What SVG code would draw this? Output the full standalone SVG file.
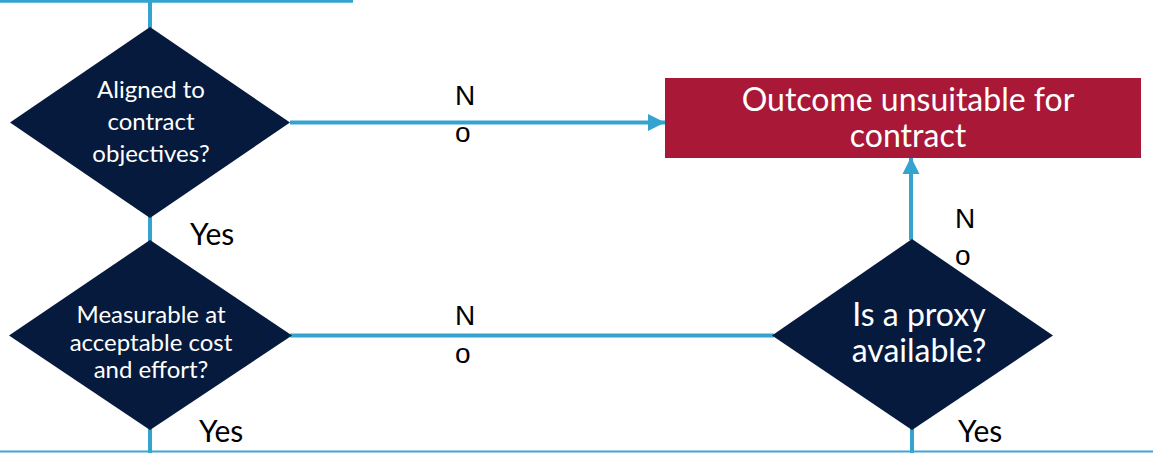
<svg xmlns="http://www.w3.org/2000/svg" width="1153" height="453" viewBox="0 0 1153 453">
<style>
.dia{fill:#061A3D}
.box{fill:#AA1838}
.ln{stroke:#35A3CF;stroke-width:4;fill:none}
.wt{fill:#FFFFFF;font-family:Lato,"Open Sans",sans-serif;text-anchor:middle}
.lb{fill:#000000;font-family:"Liberation Sans",Arial,sans-serif;font-size:28px}
.yes{fill:#000000;font-family:Lato,"Open Sans",sans-serif;font-size:30px}
</style>
<defs>
<marker id="ah" viewBox="0 0 10 10" refX="10" refY="5" markerWidth="4.3" markerHeight="6.2" markerUnits="strokeWidth" orient="auto">
<path d="M0,0 L10,5 L0,10 Z" fill="#35A3CF"/>
</marker>
</defs>
<rect width="1153" height="453" fill="#FFFFFF"/>
<g id="connectors">
<line class="ln" x1="0" y1="1.3" x2="353" y2="1.3" style="stroke-width:3"/>
<line class="ln" x1="150" y1="0" x2="150" y2="28"/>
<line class="ln" x1="150" y1="216" x2="150" y2="242"/>
<line class="ln" x1="290" y1="122.5" x2="665" y2="122.5" marker-end="url(#ah)"/>
<line class="ln" x1="290" y1="335.5" x2="774" y2="335.5"/>
<line class="ln" x1="911" y1="240" x2="911" y2="157" marker-end="url(#ah)"/>
<line class="ln" x1="150" y1="428" x2="150" y2="453"/>
<line class="ln" x1="912" y1="428" x2="912" y2="453"/>
<line x1="0" y1="451.5" x2="1153" y2="451.5" stroke="#3AA7D4" stroke-width="2"/>
<text class="lb" x="455" y="105">N</text>
<text class="lb" x="455" y="142">o</text>
<text class="lb" x="455" y="325">N</text>
<text class="lb" x="455" y="363">o</text>
<text class="lb" x="955" y="228">N</text>
<text class="lb" x="955" y="265">o</text>
<text class="yes" x="190" y="245">Yes</text>
<text class="yes" x="199" y="442">Yes</text>
<text class="yes" x="958" y="442">Yes</text>
</g>
<g id="aligned">
<polygon class="dia" points="150,27 290,122.5 150,218 10,122.5"/>
<text class="wt" font-size="24" x="151" y="98">Aligned to</text>
<text class="wt" font-size="24" x="151" y="130">contract</text>
<text class="wt" font-size="24" x="151" y="162">objectives?</text>
</g>
<g id="unsuitable">
<rect class="box" x="665" y="78" width="476" height="80"/>
<text class="wt" font-size="32" x="908" y="111">Outcome unsuitable for</text>
<text class="wt" font-size="32" x="908" y="147">contract</text>
</g>
<g id="measurable">
<polygon class="dia" points="150,240 292,335.5 150,430 9,335.5"/>
<text class="wt" font-size="24" x="151" y="323">Measurable at</text>
<text class="wt" font-size="24" x="151" y="351">acceptable cost</text>
<text class="wt" font-size="24" x="151" y="378">and effort?</text>
</g>
<g id="proxy">
<polygon class="dia" points="912,239 1053,335.5 912,430 772,335.5"/>
<text class="wt" font-size="32" x="919" y="326">Is a proxy</text>
<text class="wt" font-size="32" x="919" y="362">available?</text>
</g>
</svg>
